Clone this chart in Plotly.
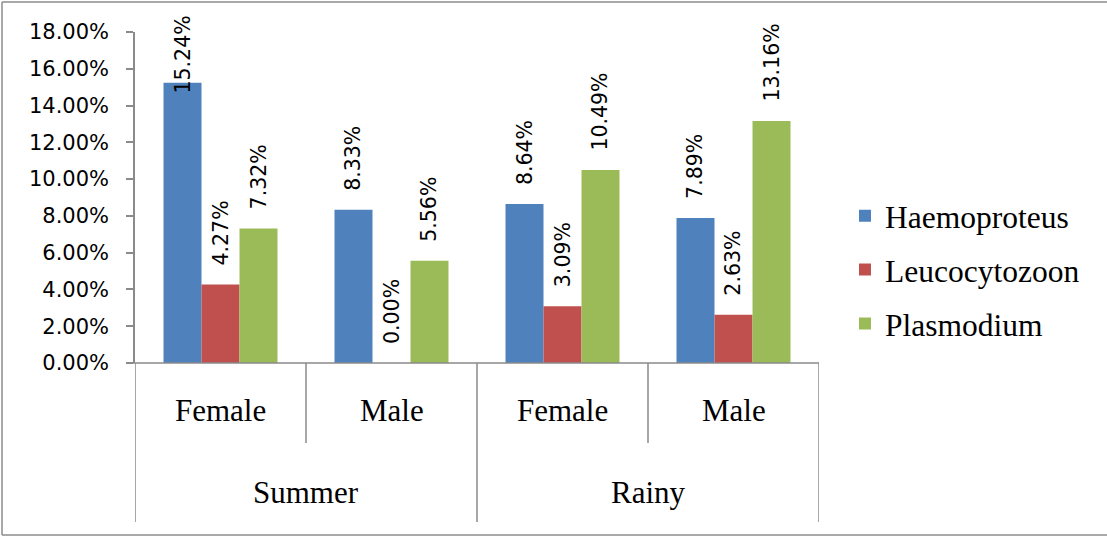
import plotly.graph_objects as go

# Infection prevalence (%) by season and sex
seasons = ["Summer", "Summer", "Rainy", "Rainy"]
sexes = ["Female", "Male", "Female", "Male"]
haemoproteus = [15.24, 8.33, 8.64, 7.89]
leucocytozoon = [4.27, 0.00, 3.09, 2.63]
plasmodium = [7.32, 5.56, 10.49, 13.16]

series_names = ["Haemoproteus", "Leucocytozoon", "Plasmodium"]
series_values = [haemoproteus, leucocytozoon, plasmodium]
series_colors = ["#4F81BD", "#C0504D", "#9BBB59"]

y_ticks = [0, 2, 4, 6, 8, 10, 12, 14, 16, 18]

W, H = 1107, 537
M_L, M_R, M_T, M_B = 135, 288, 32, 174
PLOT_W = W - M_L - M_R
PLOT_H = H - M_T - M_B
Y_MAX = 18
BAR_GAP = 1 / 3

AXIS_GREY = "#8a8a8a"
SANS = "DejaVu Sans"
SERIF = "Liberation Serif"

x_keys = [f"{s}-{x}" for s, x in zip(seasons, sexes)]

fig = go.Figure()
for name, vals, col in zip(series_names, series_values, series_colors):
    fig.add_trace(go.Bar(
        x=x_keys, y=vals, name=name, marker=dict(color=col, line=dict(width=0)),
        legendgroup=name,
    ))

# Value labels above each bar, rotated; kept below the top of the chart
px_per_unit = PLOT_H / Y_MAX
cat_px = PLOT_W / len(x_keys)
bar_px = cat_px * (1 - BAR_GAP) / len(series_names)
label_pad = 17 / px_per_unit
label_len_max = 78 / px_per_unit
label_cap = (PLOT_H + M_T - 18) / px_per_unit - label_len_max

annotations = []
for si, vals in enumerate(series_values):
    xshift = (si - (len(series_names) - 1) / 2) * bar_px
    for k, v in zip(x_keys, vals):
        annotations.append(dict(
            x=k, y=min(v + label_pad, label_cap), xref="x", yref="y",
            text=f"{v:.2f}%", showarrow=False, textangle=-90,
            xanchor="center", yanchor="bottom", xshift=xshift,
            font=dict(family=SANS, size=20.5, color="black"),
        ))

# Category labels (inner: sex, outer: season)
inner_y = -0.142
outer_y = -0.39
for i, sx in enumerate(sexes):
    annotations.append(dict(
        x=i, y=inner_y, xref="x", yref="paper", text=sx, showarrow=False,
        xanchor="center", yanchor="middle",
        font=dict(family=SERIF, size=31, color="black"),
    ))
season_names = []
for s in seasons:
    if s not in season_names:
        season_names.append(s)
for s in season_names:
    idx = [i for i, v in enumerate(seasons) if v == s]
    annotations.append(dict(
        x=(idx[0] + idx[-1]) / 2, y=outer_y, xref="x", yref="paper", text=s,
        showarrow=False, xanchor="center", yanchor="middle",
        font=dict(family=SERIF, size=31, color="black"),
    ))

shapes = []
line_style = dict(color=AXIS_GREY, width=1.5)
# Category axis baseline
shapes.append(dict(type="line", xref="paper", yref="paper",
                   x0=-8 / PLOT_W, x1=1, y0=0, y1=0, line=line_style))
# Dividers between categories
inner_bottom = -80 / PLOT_H
outer_bottom = -159 / PLOT_H
for b in range(len(x_keys) + 1):
    pos = b - 0.5
    is_outer = b == 0 or b == len(x_keys) or seasons[b - 1] != seasons[b]
    shapes.append(dict(type="line", xref="x", yref="paper",
                       x0=pos, x1=pos, y0=0,
                       y1=outer_bottom if is_outer else inner_bottom,
                       line=line_style))
# Chart border (left, top, bottom edges)
bx0 = -133 / PLOT_W
bx1 = (W + 10 - M_L) / PLOT_W
by0 = -(H - 2 - M_T - PLOT_H) / PLOT_H
by1 = (PLOT_H + M_T - 2) / PLOT_H
border = dict(color="#8c8c8c", width=1.5)
for x0, y0, x1, y1 in [(bx0, by0, bx0, by1), (bx0, by1, bx1, by1), (bx0, by0, bx1, by0)]:
    shapes.append(dict(type="line", xref="paper", yref="paper",
                       x0=x0, y0=y0, x1=x1, y1=y1, line=border))

fig.update_layout(
    width=W, height=H,
    margin=dict(l=M_L, r=M_R, t=M_T, b=M_B),
    paper_bgcolor="white", plot_bgcolor="white",
    barmode="group", bargap=BAR_GAP, bargroupgap=0,
    showlegend=True,
    legend=dict(
        x=1.038, y=0.282, xanchor="left", yanchor="middle",
        font=dict(family=SERIF, size=31.5, color="black"),
        tracegroupgap=10, bgcolor="rgba(0,0,0,0)",
        itemwidth=30,
    ),
    xaxis=dict(
        type="category", range=[-0.5, len(x_keys) - 0.5],
        showticklabels=False, showline=False, showgrid=False, zeroline=False,
        ticks="",
    ),
    yaxis=dict(
        range=[0, Y_MAX], tickvals=y_ticks,
        ticktext=[f"{t:.2f}%" for t in y_ticks],
        showline=True, linecolor=AXIS_GREY, linewidth=1.5,
        ticks="outside", ticklen=7, tickcolor=AXIS_GREY, tickwidth=1.5,
        ticklabelstandoff=13,
        showgrid=False, zeroline=False,
        tickfont=dict(family=SANS, size=21, color="black"),
    ),
    annotations=annotations,
    shapes=shapes,
)

fig.write_html("out.html")
